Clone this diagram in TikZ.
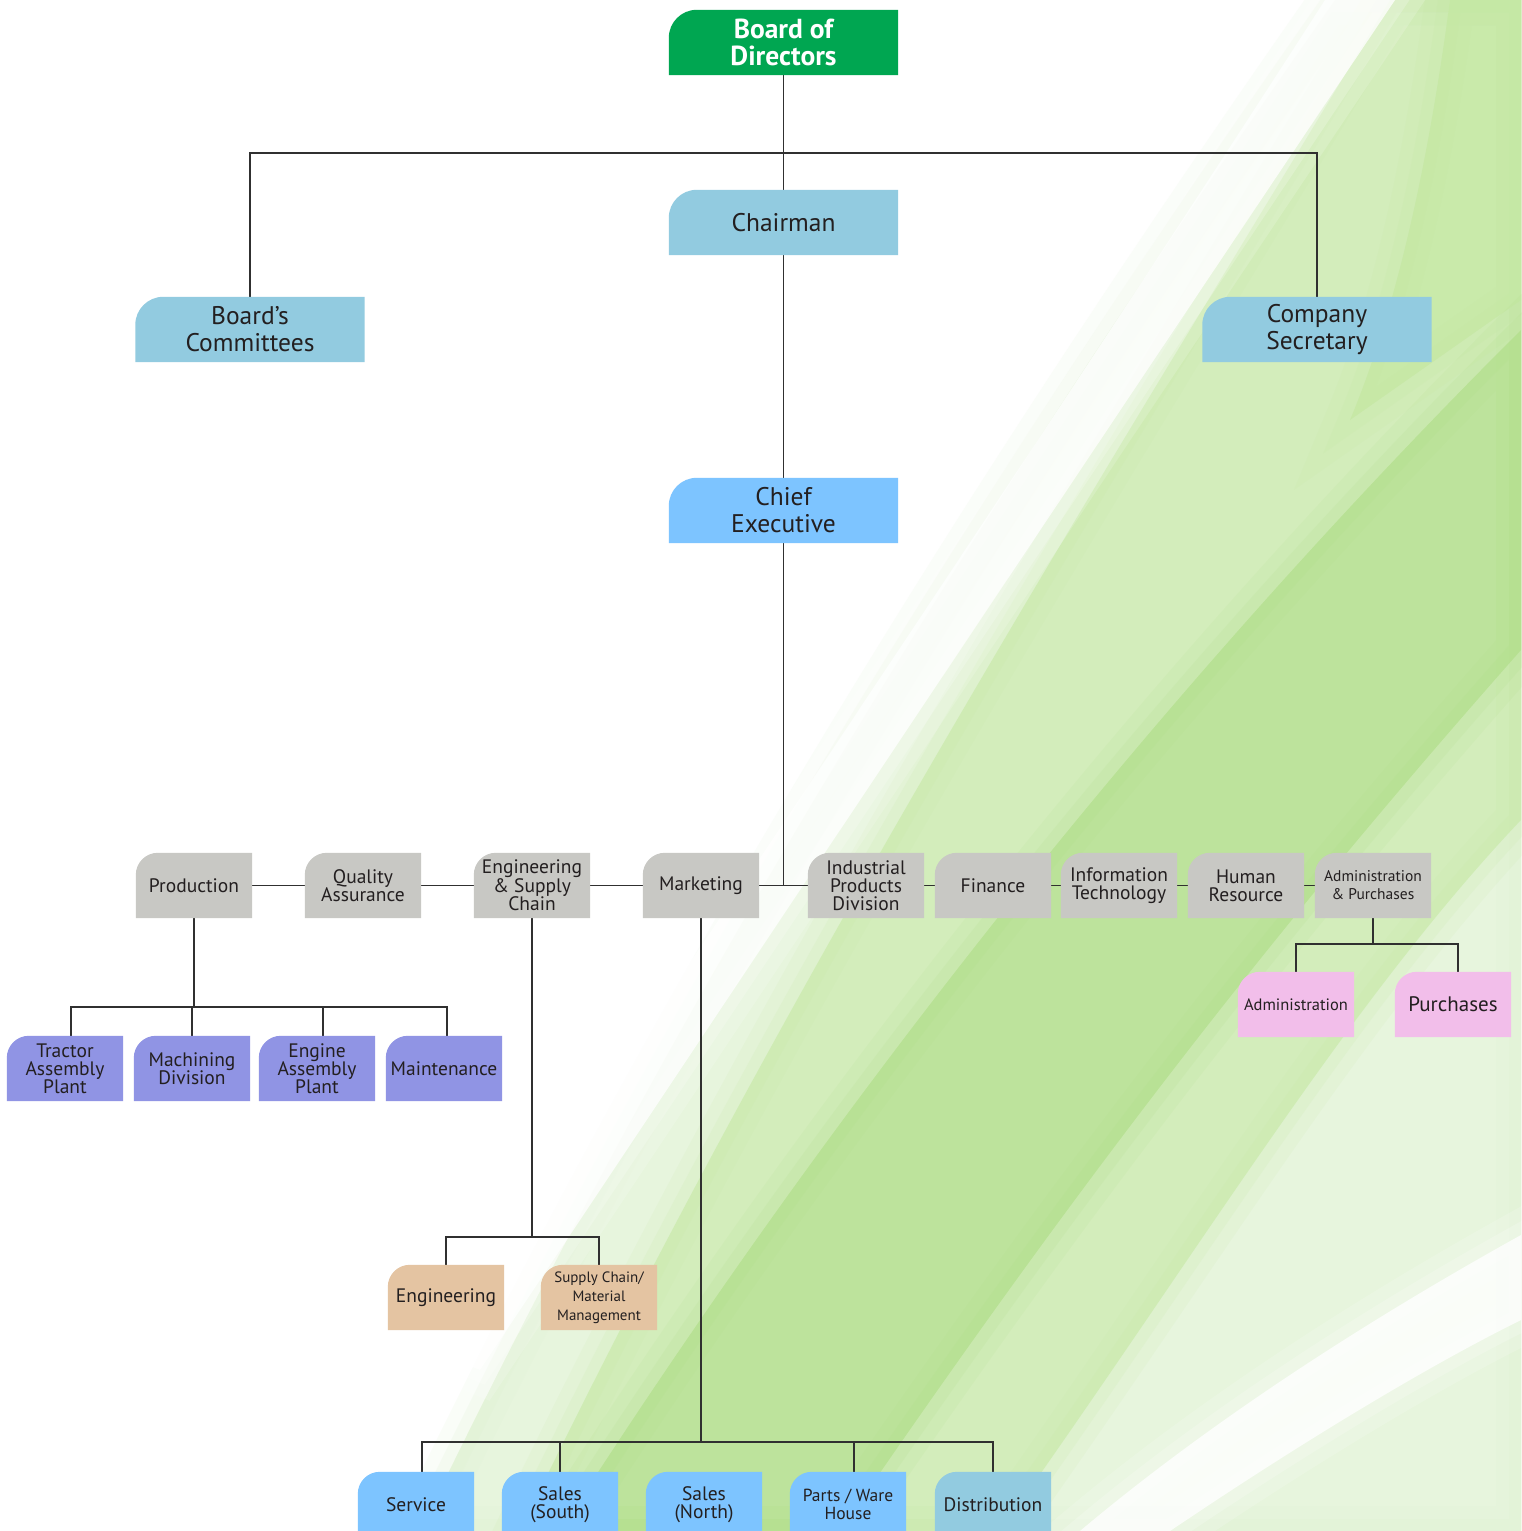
\documentclass[tikz,border=0pt]{standalone}
\usepackage{fontspec}
\setmainfont{PT Sans}
\pgfdeclarelayer{bg}
\pgfdeclarelayer{wires}
\pgfdeclarelayer{boxes}
\pgfsetlayers{bg,wires,boxes,main}
\definecolor{bodgreen}{HTML}{00A651}
\definecolor{topblue}{HTML}{92CBE0}
\definecolor{ceblue}{HTML}{7DC4FF}
\definecolor{deptgray}{HTML}{C8C8C4}
\definecolor{plantblue}{HTML}{9094E4}
\definecolor{engtan}{HTML}{E4C4A2}
\definecolor{adminpink}{HTML}{F2BEEA}
\definecolor{inkdark}{HTML}{231F20}
\definecolor{wirecol}{HTML}{303030}
\definecolor{leafa}{HTML}{DDF1CF}
\definecolor{leafb}{HTML}{C3E8A0}
\definecolor{leafc}{HTML}{A9DB7E}
\begin{document}
\begin{tikzpicture}[x=1pt,y=-1pt,
  unit/.style={minimum width=116pt,minimum height=65pt,inner sep=0pt,align=center,
    text=inkdark,font=\fontsize{19.5}{18}\selectfont},
  head/.style={unit,minimum width=229pt,font=\fontsize{25.5}{27}\selectfont},
  wire/.style={wirecol,line width=1.1pt}]
  \useasboundingbox (0,0) rectangle (1521,1531);
  % background leaves
  \begin{pgfonlayer}{bg}
    \fill[white] (0,0) rectangle (1521,1531);
    \path[save path=\leafpale] (1335,0) .. controls (1020,450) and (700,950) .. (420,1531)
      -- (1521,1531) -- (1521,0) -- cycle;
    \path[save path=\leafmid] (1390,0) .. controls (1150,400) and (800,950) .. (520,1531)
      -- (1000,1531) .. controls (1200,1250) and (1350,1000) .. (1521,820) -- (1521,0) -- cycle;
    \path[save path=\leafstrong] (1521,330) .. controls (1250,600) and (900,1000) .. (560,1531)
      -- (840,1531) .. controls (1100,1150) and (1300,900) .. (1521,650) -- cycle;
    \path[save path=\leafcorner] (1450,0) .. controls (1430,150) and (1400,300) .. (1350,420)
      -- (1521,300) -- (1521,0) -- cycle;
    \path[save path=\streaktop] (1325,0) .. controls (1100,350) and (800,800) .. (430,1350)
      -- (480,1370) .. controls (860,800) and (1160,350) .. (1395,0) -- cycle;
    \path[save path=\streaklow] (1521,1235) .. controls (1350,1330) and (1200,1430) .. (1080,1531)
      -- (1170,1531) .. controls (1290,1450) and (1420,1370) .. (1521,1320) -- cycle;
    \foreach \p/\c/\o in {\leafpale/leafa/0.7,\leafmid/leafb/0.55,\leafcorner/leafb/0.6,
        \leafstrong/leafc/0.5,\streaktop/white/0.8,\streaklow/white/0.8} {
      \fill[\c,opacity=\o,use path=\p];
      \draw[\c,opacity=0.2*\o,line width=50pt,use path=\p];
      \draw[\c,opacity=0.25*\o,line width=24pt,use path=\p];
    }
  \end{pgfonlayer}

  \node[head,text=white,font=\bfseries\fontsize{27.5}{27}\selectfont] (bod) at (783.5,42.5) {Board of\\Directors};
  \node[head] (chair) at (783.5,222.5) {Chairman};
  \node[head] (bc) at (250,329.5) {Board’s\\Committees};
  \node[head] (cs) at (1317,329.5) {Company\\Secretary};
  \node[head] (ce) at (783.5,510.5) {Chief\\Executive};

  \node[unit] (prod) at (194,885.5) {Production};
  \node[unit] (qa) at (363,885.5) {Quality\\Assurance};
  \node[unit] (esc) at (532,885.5) {Engineering\\\& Supply\\Chain};
  \node[unit] (mkt) at (701,885.5) {Marketing};
  \node[unit] (ipd) at (866,885.5) {Industrial\\Products\\Division};
  \node[unit] (fin) at (993,885.5) {Finance};
  \node[unit] (it) at (1119,885.5) {Information\\Technology};
  \node[unit] (hr) at (1246,885.5) {Human\\Resource};
  \node[unit,font=\fontsize{15.5}{18}\selectfont] (ap) at (1373,885.5) {Administration\\\& Purchases};

  \node[unit] (tap) at (65,1068.5) {Tractor\\Assembly\\Plant};
  \node[unit] (mach) at (192,1068.5) {Machining\\Division};
  \node[unit] (eap) at (317,1068.5) {Engine\\Assembly\\Plant};
  \node[unit] (maint) at (444,1068.5) {Maintenance};

  \node[unit,font=\fontsize{19.5}{20}\selectfont] (eng) at (446,1297.5) {Engineering};
  \node[unit,font=\fontsize{15}{19}\selectfont] (scm) at (599,1297.5) {Supply Chain/\\Material\\Management};

  \node[unit,font=\fontsize{16.5}{18}\selectfont] (adm) at (1296,1004.5) {Administration};
  \node[unit,font=\fontsize{21}{20}\selectfont] (pur) at (1453,1004.5) {Purchases};

  \node[unit] (svc) at (416,1504.5) {Service};
  \node[unit] (south) at (560,1504.5) {Sales\\(South)};
  \node[unit] (north) at (704,1504.5) {Sales\\(North)};
  \node[unit,font=\fontsize{17.5}{18}\selectfont] (parts) at (848,1504.5) {Parts / Ware\\House};
  \node[unit] (dist) at (993,1504.5) {Distribution};

  \coordinate (bodbus) at (785,153);
  \coordinate (prodbus) at (194,1007);
  \coordinate (escbus) at (532,1237);
  \coordinate (mktbus) at (701,1442);
  \coordinate (apbus) at (1373,944);

  \begin{pgfonlayer}{wires}
    \draw[wire] (bod.south) -- (chair.north);
    \draw[wire] (bc.north) |- (bodbus) -| (cs.north);
    \draw[wire] (chair.south) -- (ce.north);
    \draw[wire] (ce.south) -- (ce.south |- mkt);
    \draw[wire] (prod) -- (ap);
    \draw[wire] (prod.south) -- (prodbus);
    \draw[wire] ([xshift=6pt]tap.north) |- (prodbus) -| ([xshift=3pt]maint.north);
    \draw[wire] (mach.north) -- (mach.north |- prodbus);
    \draw[wire] ([xshift=6pt]eap.north) -- ([xshift=6pt]eap.north |- prodbus);
    \draw[wire] (esc.south) -- (escbus);
    \draw[wire] (eng.north) |- (escbus) -| (scm.north);
    \draw[wire] (mkt.south) -- (mktbus);
    \draw[wire] ([xshift=6pt]svc.north) |- (mktbus) -| (dist.north);
    \draw[wire] (south.north) -- (south.north |- mktbus);
    \draw[wire] ([xshift=6pt]parts.north) -- ([xshift=6pt]parts.north |- mktbus);
    \draw[wire] (ap.south) -- (apbus);
    \draw[wire] (adm.north) |- (apbus) -| ([xshift=5pt]pur.north);
  \end{pgfonlayer}

  \begin{pgfonlayer}{boxes}
    \foreach \n/\c/\r in {bod/bodgreen/28,chair/topblue/28,bc/topblue/28,cs/topblue/28,ce/ceblue/28,
        prod/deptgray/22,qa/deptgray/22,esc/deptgray/22,mkt/deptgray/22,ipd/deptgray/22,
        fin/deptgray/22,it/deptgray/22,hr/deptgray/22,ap/deptgray/22,
        tap/plantblue/22,mach/plantblue/22,eap/plantblue/22,maint/plantblue/22,
        eng/engtan/22,scm/engtan/22,adm/adminpink/22,pur/adminpink/22,
        svc/ceblue/22,south/ceblue/22,north/ceblue/22,parts/ceblue/22,dist/topblue/22}
      \fill[\c] (\n.south west) -- ([yshift=-\r pt]\n.north west)
        arc[start angle=180,end angle=90,radius=\r pt] -- (\n.north east) -- (\n.south east) -- cycle;
  \end{pgfonlayer}
\end{tikzpicture}
\end{document}
